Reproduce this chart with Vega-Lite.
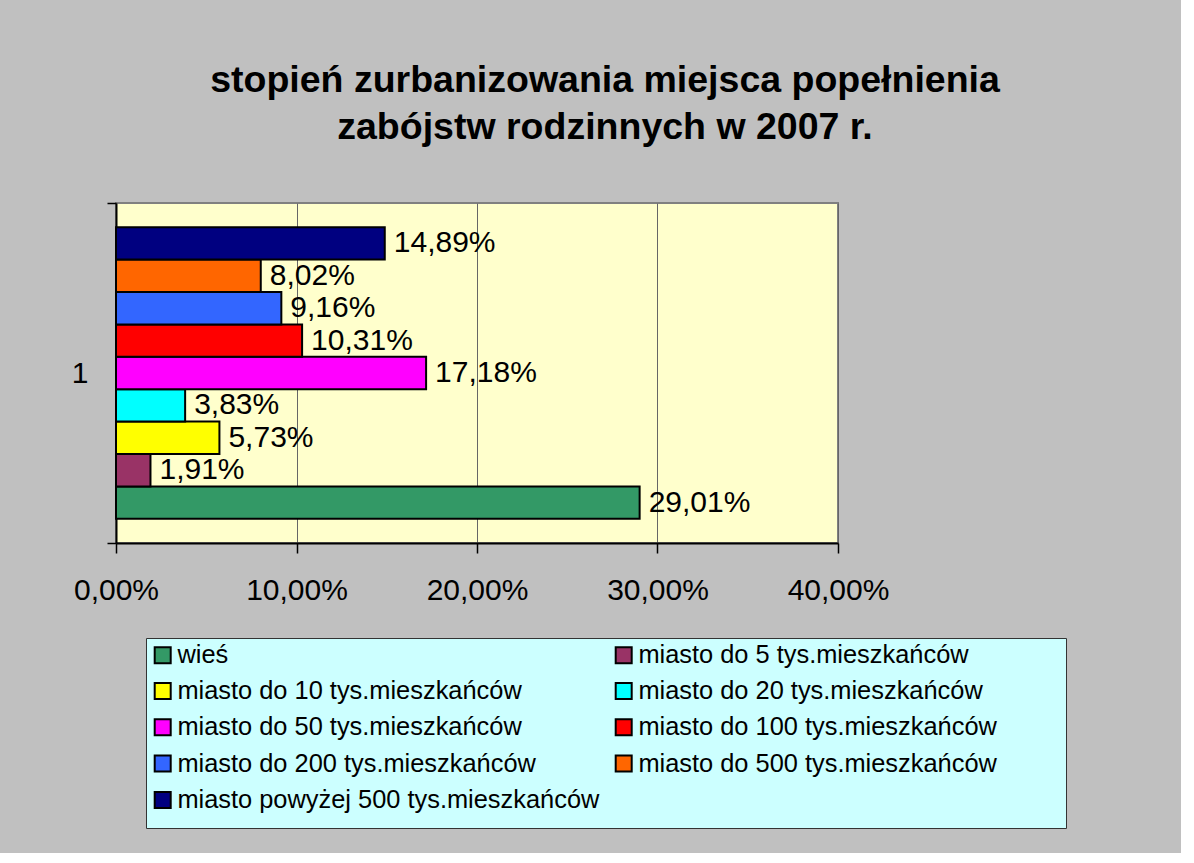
{
  "$schema": "https://vega.github.io/schema/vega-lite/v6.json",
  "autosize": {"type": "none"},
  "width": 722,
  "height": 340,
  "padding": {"left": 116, "top": 203, "right": 343, "bottom": 310},
  "background": "#C0C0C0",
  "config": {
    "locale": {"number": {"decimal": ",", "thousands": " ", "grouping": [3], "currency": ["", " zł"]}},
    "view": {"fill": "#FFFFCC", "stroke": "#808080", "strokeWidth": 2},
    "font": "Liberation Sans"
  },
  "title": {
    "text": ["stopień zurbanizowania miejsca popełnienia", "zabójstw rodzinnych w 2007 r."],
    "font": "Liberation Sans",
    "fontSize": 37.5,
    "fontWeight": "bold",
    "color": "#000000",
    "lineHeight": 47,
    "anchor": "middle",
    "frame": "group",
    "dx": 128,
    "offset": 42
  },
  "data": {
    "values": [
      {"grupa": "1", "kategoria": "wieś", "udzial": 0.2901},
      {"grupa": "1", "kategoria": "miasto do 5 tys.mieszkańców", "udzial": 0.0191},
      {"grupa": "1", "kategoria": "miasto do 10 tys.mieszkańców", "udzial": 0.0573},
      {"grupa": "1", "kategoria": "miasto do 20 tys.mieszkańców", "udzial": 0.0383},
      {"grupa": "1", "kategoria": "miasto do 50 tys.mieszkańców", "udzial": 0.1718},
      {"grupa": "1", "kategoria": "miasto do 100 tys.mieszkańców", "udzial": 0.1031},
      {"grupa": "1", "kategoria": "miasto do 200 tys.mieszkańców", "udzial": 0.0916},
      {"grupa": "1", "kategoria": "miasto do 500 tys.mieszkańców", "udzial": 0.0802},
      {"grupa": "1", "kategoria": "miasto powyżej 500 tys.mieszkańców", "udzial": 0.1489}
    ]
  },
  "encoding": {
    "y": {
      "field": "grupa",
      "type": "nominal",
      "scale": {"paddingInner": 0, "paddingOuter": 0},
      "axis": {
        "title": null,
        "labelFont": "Liberation Sans",
        "labelFontSize": 30,
        "labelColor": "#000000",
        "labelPadding": 19,
        "tickBand": "extent",
        "tickSize": 9,
        "tickColor": "#000000",
        "tickWidth": 1.5,
        "domainColor": "#000000",
        "domainWidth": 2,
        "grid": false
      }
    },
    "yOffset": {
      "field": "kategoria",
      "type": "nominal",
      "scale": {
        "domain": [
          "miasto powyżej 500 tys.mieszkańców",
          "miasto do 500 tys.mieszkańców",
          "miasto do 200 tys.mieszkańców",
          "miasto do 100 tys.mieszkańców",
          "miasto do 50 tys.mieszkańców",
          "miasto do 20 tys.mieszkańców",
          "miasto do 10 tys.mieszkańców",
          "miasto do 5 tys.mieszkańców",
          "wieś"
        ],
        "paddingInner": 0,
        "paddingOuter": 0.745
      }
    },
    "x": {
      "field": "udzial",
      "type": "quantitative",
      "scale": {"domain": [0, 0.4], "nice": false},
      "axis": {
        "title": null,
        "values": [0, 0.1, 0.2, 0.3, 0.4],
        "format": ".2%",
        "labelFont": "Liberation Sans",
        "labelFontSize": 30,
        "labelColor": "#000000",
        "labelPadding": 22,
        "labelFlush": false,
        "labelOverlap": false,
        "labelBound": false,
        "tickSize": 10,
        "tickColor": "#000000",
        "tickWidth": 1.5,
        "domainColor": "#000000",
        "domainWidth": 2,
        "grid": true,
        "gridColor": "#666666",
        "gridWidth": 1
      }
    }
  },
  "layer": [
    {
      "mark": {"type": "bar", "stroke": "#000000", "strokeWidth": 2},
      "encoding": {
        "fill": {
          "field": "kategoria",
          "type": "nominal",
          "scale": {
            "domain": [
              "wieś",
              "miasto do 5 tys.mieszkańców",
              "miasto do 10 tys.mieszkańców",
              "miasto do 20 tys.mieszkańców",
              "miasto do 50 tys.mieszkańców",
              "miasto do 100 tys.mieszkańców",
              "miasto do 200 tys.mieszkańców",
              "miasto do 500 tys.mieszkańców",
              "miasto powyżej 500 tys.mieszkańców"
            ],
            "range": ["#339966", "#993366", "#FFFF00", "#00FFFF", "#FF00FF", "#FF0000", "#3366FF", "#FF6600", "#000080"]
          },
          "legend": {
            "title": " ",
            "titleOrient": "right",
            "titleFontSize": 183,
            "titleBaseline": "top",
            "titleAnchor": "start",
            "titlePadding": 65,
            "orient": "none",
            "legendX": 30,
            "legendY": 435,
            "direction": "horizontal",
            "columns": 2,
            "gridAlign": "all",
            "columnPadding": 11,
            "rowPadding": 9.3,
            "padding": 4,
            "fillColor": "#CCFFFF",
            "strokeColor": "#333333",
            "symbolType": "square",
            "symbolSize": 256,
            "symbolStrokeColor": "#000000",
            "symbolStrokeWidth": 2,
            "labelFont": "Liberation Sans",
            "labelFontSize": 25.4,
            "labelColor": "#000000",
            "labelLimit": 600,
            "labelOffset": 2
          }
        }
      }
    },
    {
      "mark": {"type": "text", "align": "left", "baseline": "middle", "dx": 9, "font": "Liberation Sans", "fontSize": 30, "color": "#000000"},
      "encoding": {
        "text": {"field": "udzial", "type": "quantitative", "format": ".2%"}
      }
    }
  ]
}
